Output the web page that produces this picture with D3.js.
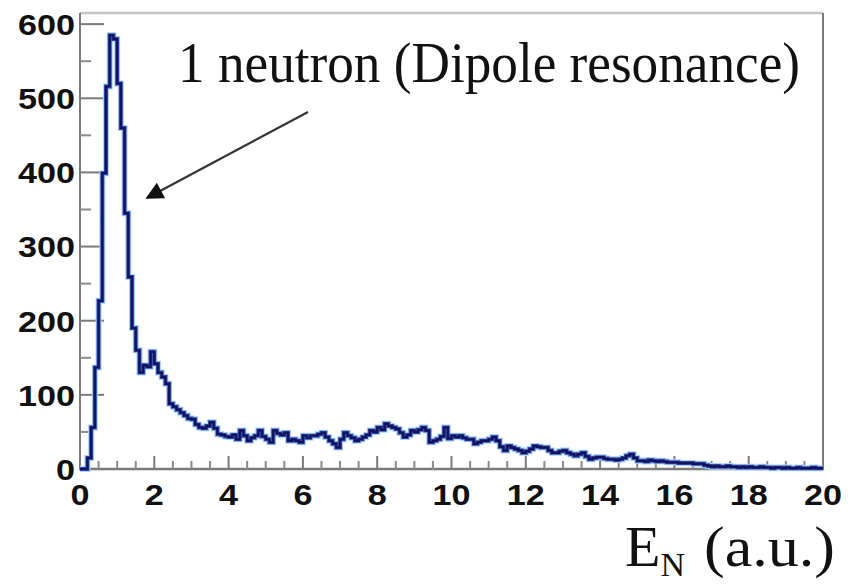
<!DOCTYPE html>
<html>
<head>
<meta charset="utf-8">
<script src="https://cdn.jsdelivr.net/npm/d3@7/dist/d3.min.js"></script>
<style>
html,body{margin:0;padding:0;background:#fff;}
svg{display:block;}
</style>
</head>
<body>
<svg id="chart" width="856" height="584"></svg>
<script>
// ---- data ----
const binWidth = 0.1;
const binStarts = d3.range(0, 200).map(i => +(i * 0.1).toFixed(1));
const counts = [
  0, 0, 15, 56, 137, 227, 399, 516, 585, 580,
  520, 460, 345, 259, 190, 160, 130, 140, 138, 158,
  142, 130, 124, 115, 88, 84, 80, 76, 72, 68,
  67, 60, 56, 55, 58, 63, 55, 47, 46, 44,
  43, 46, 40, 52, 45, 38, 42, 45, 52, 44,
  40, 36, 52, 48, 46, 49, 38, 40, 38, 36,
  45, 42, 45, 45, 47, 49, 43, 38, 34, 29,
  40, 49, 45, 42, 38, 40, 43, 46, 52, 50,
  56, 53, 61, 58, 56, 54, 49, 43, 46, 52,
  50, 53, 56, 52, 36, 38, 40, 44, 56, 41,
  45, 43, 45, 42, 40, 40, 34, 36, 38, 38,
  40, 43, 38, 30, 25, 31, 29, 27, 25, 22,
  24, 27, 31, 30, 29, 29, 25, 22, 22, 24,
  25, 22, 20, 18, 20, 22, 17, 13, 15, 16,
  16, 14, 13, 13, 12, 13, 15, 18, 20, 15,
  11, 11, 10, 12, 11, 10, 11, 10, 9, 9,
  9, 8, 8, 8, 8, 7, 7, 7, 5, 4,
  3, 4, 3, 3, 4, 3, 3, 2, 3, 2,
  3, 2, 2, 3, 2, 2, 1, 2, 2, 1,
  2, 1, 1, 2, 1, 1, 1, 2, 1, 1
];
const xTickLabels = [0, 2, 4, 6, 8, 10, 12, 14, 16, 18, 20];
const yTickLabels = [0, 100, 200, 300, 400, 500, 600];
const annotationText = "1 neutron (Dipole resonance)";

// ---- layout ----
const svg = d3.select("#chart");
const x = d3.scaleLinear().domain([0, 20]).range([80, 823]);
const y = d3.scaleLinear().domain([0, 615]).range([469, 13]);
const labelFont = "Liberation Sans, Arial, sans-serif";
const serifFont = "Liberation Serif, 'Times New Roman', serif";

// frame top/right
svg.append("line").attr("x1", 80).attr("x2", 823).attr("y1", 13).attr("y2", 13)
  .attr("stroke", "#c8c4c4").attr("stroke-width", 2.5);
svg.append("line").attr("x1", 823).attr("x2", 823).attr("y1", 13).attr("y2", 469)
  .attr("stroke", "#7a7a7a").attr("stroke-width", 2);

// y axis
const yAxisG = svg.append("g").attr("transform", "translate(80,0)");
yAxisG.append("line").attr("x1", 0).attr("x2", 0).attr("y1", 13).attr("y2", 470)
  .attr("stroke", "#7a7a7a").attr("stroke-width", 2);
const yMinor = d3.range(50, 615, 100);
yAxisG.selectAll("line.minor").data(yMinor).join("line").attr("class", "minor")
  .attr("x1", 0).attr("x2", 11).attr("y1", d => y(d)).attr("y2", d => y(d))
  .attr("stroke", "#8a8a8a").attr("stroke-width", 2);
yAxisG.selectAll("line.major").data(yTickLabels).join("line").attr("class", "major")
  .attr("x1", 0).attr("x2", 24).attr("y1", d => y(d)).attr("y2", d => y(d))
  .attr("stroke", "#7a7a7a").attr("stroke-width", 2);
yAxisG.selectAll("text").data(yTickLabels).join("text")
  .attr("x", -5).attr("y", d => y(d)).attr("dy", "0.36em")
  .attr("text-anchor", "end")
  .attr("font-family", labelFont)
  .attr("font-weight", "bold").attr("font-size", 30).attr("fill", "#111")
  .attr("textLength", d => String(d).length * 19).attr("lengthAdjust", "spacingAndGlyphs")
  .text(d => d);

// x axis
const xAxisG = svg.append("g");
xAxisG.append("line").attr("x1", 79).attr("x2", 824).attr("y1", 469).attr("y2", 469)
  .attr("stroke", "#7a7a7a").attr("stroke-width", 2.5);
const xMinor = d3.range(0, 20.01, 0.5).filter(v => Math.abs(v % 2) > 1e-6);
xAxisG.selectAll("line.minor").data(xMinor).join("line").attr("class", "minor")
  .attr("x1", d => x(d)).attr("x2", d => x(d)).attr("y1", 469).attr("y2", 461)
  .attr("stroke", "#8a8a8a").attr("stroke-width", 2);
xAxisG.selectAll("line.major").data(xTickLabels.slice(1, -1)).join("line").attr("class", "major")
  .attr("x1", d => x(d)).attr("x2", d => x(d)).attr("y1", 469).attr("y2", 456)
  .attr("stroke", "#7a7a7a").attr("stroke-width", 2);
xAxisG.selectAll("text").data(xTickLabels).join("text")
  .attr("x", d => x(d)).attr("y", 505)
  .attr("text-anchor", "middle")
  .attr("font-family", labelFont)
  .attr("font-weight", "bold").attr("font-size", 30).attr("fill", "#111")
  .attr("textLength", d => String(d).length * 19).attr("lengthAdjust", "spacingAndGlyphs")
  .text(d => d);

// histogram
const pts = binStarts.map((s, i) => [s, counts[i]]);
pts.push([binStarts[binStarts.length - 1] + binWidth, counts[counts.length - 1]]);
const line = d3.line().x(d => x(d[0])).y(d => y(d[1])).curve(d3.curveStepAfter);
const pathD = line(pts);
svg.append("path").attr("d", pathD).attr("fill", "none")
  .attr("stroke", "#a9d3fa").attr("stroke-width", 6);
svg.append("path").attr("d", pathD).attr("fill", "none")
  .attr("stroke", "#3a52b4").attr("stroke-width", 4);
svg.append("path").attr("d", pathD).attr("fill", "none")
  .attr("stroke", "#12135c").attr("stroke-width", 2.4);

// annotation arrow
const defs = svg.append("defs");
defs.append("marker").attr("id", "ah").attr("viewBox", "0 0 10 10")
  .attr("refX", 9).attr("refY", 5).attr("markerWidth", 9).attr("markerHeight", 8)
  .attr("markerUnits", "strokeWidth").attr("orient", "auto")
  .append("path").attr("d", "M0,0 L10,5 L0,10 z").attr("fill", "#111");
svg.append("line").attr("x1", 308).attr("y1", 112).attr("x2", 147).attr("y2", 198)
  .attr("stroke", "#333").attr("stroke-width", 2.2).attr("marker-end", "url(#ah)");

svg.append("text").attr("x", 178).attr("y", 82)
  .attr("font-family", serifFont)
  .attr("font-size", 56).attr("fill", "#111")
  .attr("textLength", 622).attr("lengthAdjust", "spacingAndGlyphs")
  .text(annotationText);

// axis title E_N (a.u.)
const title = svg.append("text").attr("x", 625).attr("y", 566)
  .attr("font-family", serifFont)
  .attr("font-size", 58).attr("fill", "#111");
title.append("tspan").text("E");
title.append("tspan").attr("font-size", 34).attr("dy", 10).text("N");
svg.append("text").attr("x", 704).attr("y", 566)
  .attr("font-family", serifFont)
  .attr("font-size", 58).attr("fill", "#111")
  .attr("textLength", 131).attr("lengthAdjust", "spacingAndGlyphs")
  .text("(a.u.)");
</script>
</body>
</html>
